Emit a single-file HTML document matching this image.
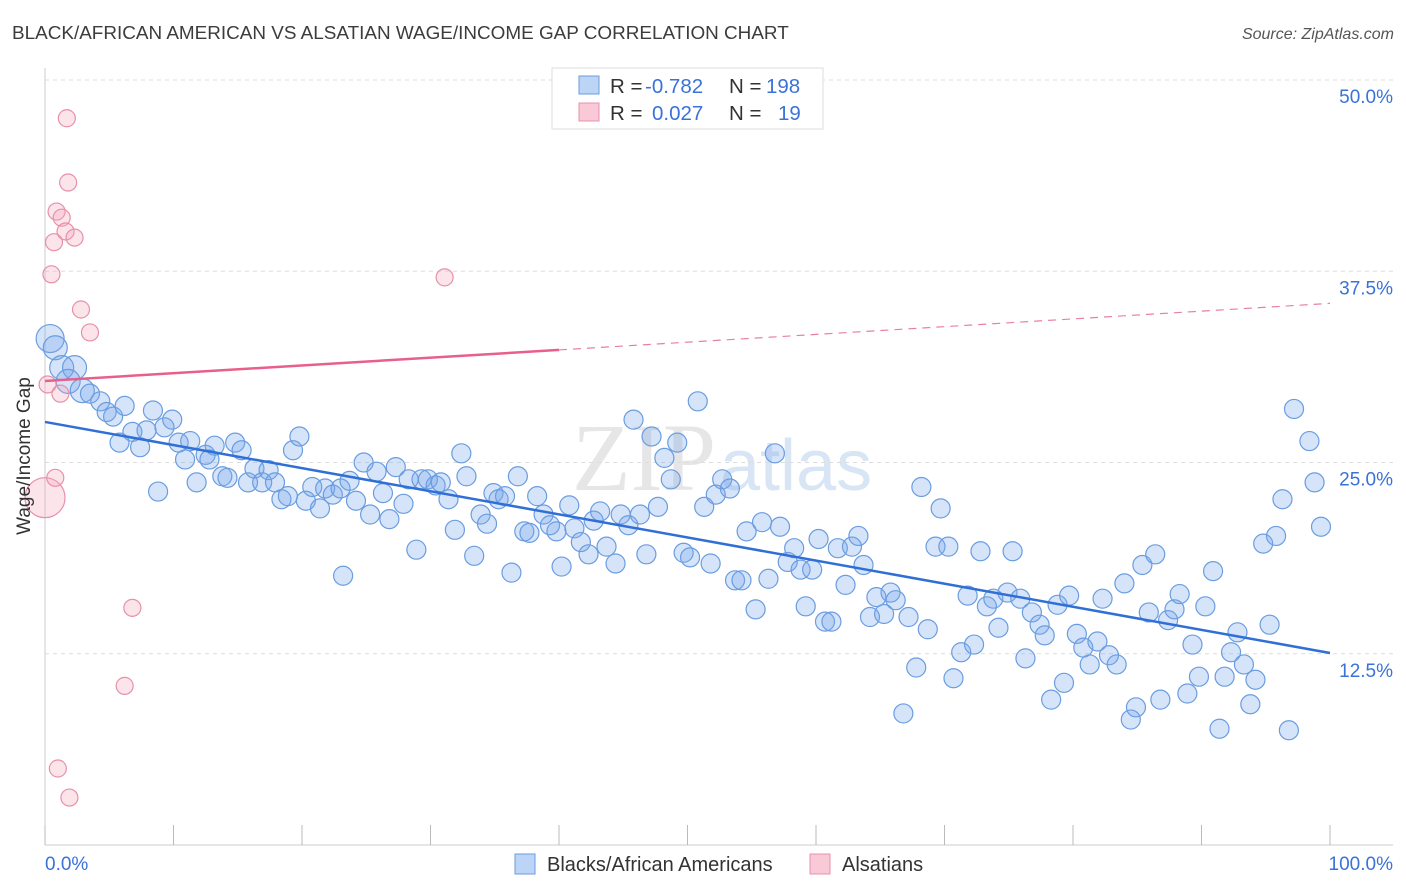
<!DOCTYPE html>
<html><head><meta charset="utf-8">
<style>
body{margin:0;background:#fff;font-family:"Liberation Sans",sans-serif;}
#wrap{position:relative;width:1406px;height:892px;overflow:hidden;}
</style></head>
<body>
<div id="wrap">
<svg id="svg" width="1406" height="892" xmlns="http://www.w3.org/2000/svg">
<text x="12" y="39" font-size="18.9" fill="#3c3c3c">BLACK/AFRICAN AMERICAN VS ALSATIAN WAGE/INCOME GAP CORRELATION CHART</text>
<text x="1394" y="39" font-size="16" fill="#555" font-style="italic" text-anchor="end">Source: ZipAtlas.com</text>
<text x="716" y="490" font-size="96" fill="#e6e6e6" text-anchor="end" font-family="Liberation Serif,serif">ZIP</text>
<text x="720" y="490" font-size="72" fill="#d8e5f5">atlas</text>
<g id="grid"></g>
<g id="marks"></g>
<g id="lines"></g>
<text x="30" y="456" font-size="19" fill="#333" text-anchor="middle" transform="rotate(-90 30 456)">Wage/Income Gap</text>
<text x="45" y="870" font-size="19" fill="#3a72d8">0.0%</text>
<text x="1393" y="870" font-size="19" fill="#3a72d8" text-anchor="end">100.0%</text>
<g>
<rect x="552" y="68" width="271" height="61" fill="#fff" stroke="#ddd"/>
<rect x="579" y="76" width="20" height="18" fill="#bcd4f5" stroke="#6a9de0"/>
<rect x="579" y="103" width="20" height="18" fill="#f9c9d7" stroke="#e890aa"/>
<text x="610" y="93" font-size="20.5" fill="#333">R = <tspan x="645" fill="#3a72d8">-0.782</tspan><tspan x="729">N = </tspan><tspan x="766" fill="#3a72d8">198</tspan></text>
<text x="610" y="120" font-size="20.5" fill="#333">R = <tspan x="652" fill="#3a72d8">0.027</tspan><tspan x="729">N = </tspan><tspan x="778" fill="#3a72d8">19</tspan></text>
</g>
<g>
<rect x="515" y="854" width="20" height="20" fill="#bcd4f5" stroke="#6a9de0"/>
<text x="547" y="871" font-size="20" fill="#333">Blacks/African Americans</text>
<rect x="810" y="854" width="20" height="20" fill="#f9c9d7" stroke="#e890aa"/>
<text x="842" y="871" font-size="20" fill="#333">Alsatians</text>
</g>
</svg>
</div>
<script>
const yTicks=[12.5,25,37.5,50];
const yTickLabels=["12.5%","25.0%","37.5%","50.0%"];
const xTicks=[0,10,20,30,40,50,60,70,80,90,100];
const blueX=[0.4,0.8,1.3,2.3,1.8,2.9,3.5,4.3,4.8,5.3,6.2,5.8,6.8,7.4,7.9,8.4,8.8,9.3,9.9,10.4,10.9,11.3,11.8,12.5,12.8,13.2,13.8,14.2,14.8,15.3,15.8,16.3,16.9,17.4,17.9,18.4,18.9,19.3,19.8,20.3,20.8,21.4,21.8,22.4,23.0,23.2,23.7,24.2,24.8,25.3,25.8,26.3,26.8,27.3,27.9,28.3,28.9,29.3,29.8,30.4,30.8,31.4,31.9,32.4,32.8,33.4,33.9,34.4,34.9,35.3,35.8,36.3,36.8,37.3,37.7,38.3,38.8,39.3,39.8,40.2,40.8,41.2,41.7,42.3,42.7,43.2,43.7,44.4,44.8,45.4,45.8,46.3,46.8,47.2,47.7,48.2,48.7,49.2,49.7,50.2,50.8,51.3,51.8,52.2,52.7,53.3,53.7,54.2,54.6,55.3,55.8,56.3,56.8,57.2,57.8,58.3,58.8,59.2,59.7,60.2,60.7,61.2,61.7,62.3,62.8,63.3,63.7,64.2,64.7,65.3,65.8,66.2,66.8,67.2,67.8,68.2,68.7,69.3,69.7,70.3,70.7,71.3,71.8,72.3,72.8,73.3,73.8,74.2,74.9,75.3,75.9,76.3,76.8,77.4,77.8,78.3,78.8,79.3,79.7,80.3,80.8,81.3,81.9,82.3,82.8,83.4,84.0,84.5,84.9,85.4,85.9,86.4,86.8,87.4,87.9,88.3,88.9,89.3,89.8,90.3,90.9,91.4,91.8,92.3,92.8,93.3,93.8,94.2,94.8,95.3,95.8,96.3,96.8,97.2,98.4,98.8,99.3];
const blueY=[33.1,32.5,31.2,31.2,30.3,29.7,29.5,29.0,28.3,28.0,28.7,26.3,27.0,26.0,27.1,28.4,23.1,27.3,27.8,26.3,25.2,26.4,23.7,25.5,25.2,26.1,24.1,24.0,26.3,25.8,23.7,24.6,23.7,24.5,23.7,22.6,22.8,25.8,26.7,22.5,23.4,22.0,23.3,22.9,23.3,17.6,23.8,22.5,25.0,21.6,24.4,23.0,21.3,24.7,22.3,23.9,19.3,23.9,23.9,23.5,23.7,22.6,20.6,25.6,24.1,18.9,21.6,21.0,23.0,22.6,22.8,17.8,24.1,20.5,20.4,22.8,21.6,20.9,20.5,18.2,22.2,20.7,19.8,19.0,21.2,21.8,19.5,18.4,21.6,20.9,27.8,21.6,19.0,26.7,22.1,25.3,23.9,26.3,19.1,18.8,29.0,22.1,18.4,22.9,23.9,23.3,17.3,17.3,20.5,15.4,21.1,17.4,25.6,20.8,18.5,19.4,18.0,15.6,18.0,20.0,14.6,14.6,19.4,17.0,19.5,20.2,18.3,14.9,16.2,15.1,16.5,16.0,8.6,14.9,11.6,23.4,14.1,19.5,22.0,19.5,10.9,12.6,16.3,13.1,19.2,15.6,16.1,14.2,16.5,19.2,16.1,12.2,15.2,14.4,13.7,9.5,15.7,10.6,16.3,13.8,12.9,11.8,13.3,16.1,12.4,11.8,17.1,8.2,9.0,18.3,15.2,19.0,9.5,14.7,15.4,16.4,9.9,13.1,11.0,15.6,17.9,7.6,11.0,12.6,13.9,11.8,9.2,10.8,19.7,14.4,20.2,22.6,7.5,28.5,26.4,23.7,20.8];
const pinkX=[0,0.2,0.5,0.7,0.8,0.9,1.0,1.2,1.3,1.6,1.7,1.8,1.9,2.3,2.8,3.5,6.2,6.8,31.1];
const pinkY=[22.7,30.1,37.3,39.4,24.0,41.4,5.0,29.5,41.0,40.1,47.5,43.3,3.1,39.7,35.0,33.5,10.4,15.5,37.1];
const blueTrend=[27.65,12.55];
const pinkTrend=[30.33,35.4];
const pinkSolidEnd=40;

const X0=45,X1=1330,Y0=845,PXPER=15.3;
const sx=v=>X0+(X1-X0)*v/100;
const sy=v=>Y0-v*PXPER;
const NS="http://www.w3.org/2000/svg";
function mk(tag,attrs,parent){const e=document.createElementNS(NS,tag);for(const k in attrs)e.setAttribute(k,attrs[k]);parent.appendChild(e);return e;}
const grid=document.getElementById('grid'),marks=document.getElementById('marks'),lines=document.getElementById('lines');

yTicks.forEach((t,i)=>{
  const l=mk('line',{x1:45,x2:1393,y1:sy(t),y2:sy(t),stroke:'#ddd','stroke-dasharray':'4,4'},grid);
  
  
  const tx=mk('text',{x:1393,y:sy(t)+23,'font-size':19,fill:'#3a72d8','text-anchor':'end'},grid);
  tx.textContent=yTickLabels[i];
  
  
});
const ax=mk('line',{x1:45,x2:1393,y1:Y0,y2:Y0,stroke:'#ccc'},grid);


const ay=mk('line',{x1:45,x2:45,y1:68,y2:Y0,stroke:'#ccc'},grid);


xTicks.forEach(t=>{
  const l=mk('line',{x1:sx(t),x2:sx(t),y1:Y0-20,y2:Y0,stroke:'#bbb'},grid);
  
  
});

blueX.forEach((x,i)=>{
  const r=i===0?14:(i<6?12:9.5);
  const c=mk('circle',{cx:sx(x),cy:sy(blueY[i]),r:r,fill:'rgba(120,165,235,0.3)',stroke:'#6a9de0','stroke-width':1.2},marks);
  
  
});
pinkX.forEach((x,i)=>{
  const r=i===0?20:8.5;
  const c=mk('circle',{cx:sx(x),cy:sy(pinkY[i]),r:r,fill:'rgba(245,165,190,0.3)',stroke:'#e890aa','stroke-width':1.2},marks);
  
  
});

const bl=mk('line',{x1:sx(0),y1:sy(blueTrend[0]),x2:sx(100),y2:sy(blueTrend[1]),stroke:'#2f6fd6','stroke-width':2.5},lines);


const pAt=v=>pinkTrend[0]+(pinkTrend[1]-pinkTrend[0])*v/100;
const pl=mk('line',{x1:sx(0),y1:sy(pAt(0)),x2:sx(pinkSolidEnd),y2:sy(pAt(pinkSolidEnd)),stroke:'#e8608a','stroke-width':2.5},lines);


const pd=mk('line',{x1:sx(pinkSolidEnd),y1:sy(pAt(pinkSolidEnd)),x2:sx(100),y2:sy(pAt(100)),stroke:'#e8809f','stroke-width':1.2,'stroke-dasharray':'8,6'},lines);


</script>
</body></html>
